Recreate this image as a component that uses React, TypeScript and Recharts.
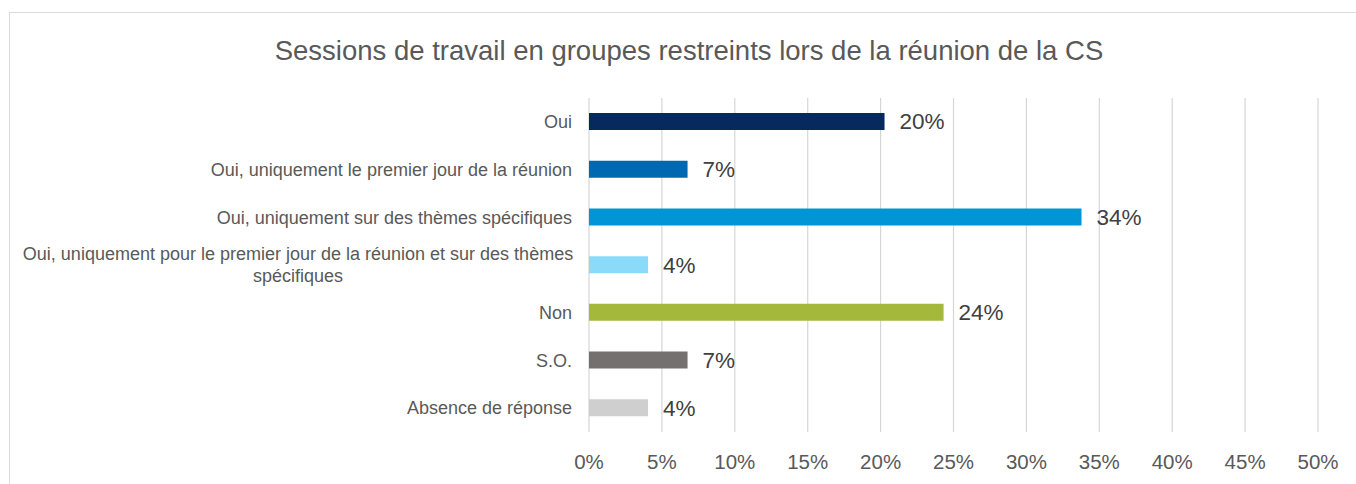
// Sessions de travail en groupes restreints — horizontal bar chart

import React from 'react';
import { BarChart, Bar, XAxis, YAxis, CartesianGrid, Cell, LabelList } from 'recharts';

const categories = [
  'Oui',
  'Oui, uniquement le premier jour de la réunion',
  'Oui, uniquement sur des thèmes spécifiques',
  'Oui, uniquement pour le premier jour de la réunion et sur des thèmes\nspécifiques',
  'Non',
  'S.O.',
  'Absence de réponse',
];

// shares in percent
const shares = [20.27, 6.76, 33.78, 4.05, 24.32, 6.76, 4.05];

const barColors = ['#062a5e', '#0067b1', '#0095d4', '#89dbf9', '#a4b93c', '#757070', '#cfcfcf'];

const xTicks = [0, 5, 10, 15, 20, 25, 30, 35, 40, 45, 50];

const title = 'Sessions de travail en groupes restreints lors de la réunion de la CS';

const FONT = '"Liberation Sans", Arial, sans-serif';

// category labels, right aligned; wrapped labels are centred line by line like Excel does
function CategoryTick(props: any) {
  const { x, y, payload } = props;
  const lines = String(payload.value).split('\n');
  const common = { fontFamily: FONT, fontSize: 18, fill: '#595959' };
  if (lines.length === 1) {
    return (
      <text x={x} y={y} dy="0.35em" textAnchor="end" {...common}>
        {lines[0]}
      </text>
    );
  }
  const cx = x - 274;
  const lineH = 22;
  return (
    <text textAnchor="middle" {...common}>
      {lines.map((line, i) => (
        <tspan key={i} x={cx} y={y + (i - (lines.length - 1) / 2) * lineH} dy="0.35em">
          {line}
        </tspan>
      ))}
    </text>
  );
}

export default function App() {
  const data = categories.map((name, i) => ({ name, value: shares[i] }));

  return (
    <div
      style={{
        position: 'absolute',
        left: 0,
        top: 0,
        width: 1356,
        height: 484,
        background: '#fff',
        overflow: 'hidden',
      }}
    >
      {/* chart frame, runs off the right and bottom edges */}
      <div
        style={{
          position: 'absolute',
          left: 9,
          top: 12,
          width: 1360,
          height: 490,
          border: '1px solid #d9d9d9',
          boxSizing: 'border-box',
        }}
      />
      <div
        style={{
          position: 'absolute',
          left: 9,
          top: 33,
          width: 1360,
          textAlign: 'center',
          fontFamily: FONT,
          fontSize: 27.5,
          color: '#595959',
          lineHeight: '36px',
        }}
      >
        {title}
      </div>
      <div style={{ position: 'absolute', left: 0, top: 0 }}>
        <BarChart
          width={1356}
          height={484}
          data={data}
          layout="vertical"
          margin={{ top: 98, right: 38, bottom: 0, left: 0 }}
          barCategoryGap={15}
        >
          <CartesianGrid horizontal={false} stroke="#d6d6d6" strokeWidth={1.2} />
          <XAxis
            type="number"
            domain={[0, 50]}
            ticks={xTicks}
            tickFormatter={(v: number) => `${v}%`}
            axisLine={false}
            tickLine={false}
            tickSize={0}
            tickMargin={22}
            height={52}
            interval={0}
            tick={{ fontFamily: FONT, fontSize: 20.5, fill: '#595959' }}
          />
          <YAxis
            type="category"
            dataKey="name"
            width={589}
            axisLine={false}
            tickLine={false}
            tickSize={0}
            tickMargin={17}
            interval={0}
            tick={<CategoryTick />}
          />
          <Bar dataKey="value" barSize={17} isAnimationActive={false}>
            {data.map((d, i) => (
              <Cell key={d.name} fill={barColors[i]} />
            ))}
            <LabelList
              dataKey="value"
              position="right"
              offset={15}
              formatter={(v: any) => `${Math.round(Number(v))}%`}
              style={{ fontFamily: FONT, fontSize: 22.5, fill: '#404040' }}
            />
          </Bar>
        </BarChart>
      </div>
    </div>
  );
}
